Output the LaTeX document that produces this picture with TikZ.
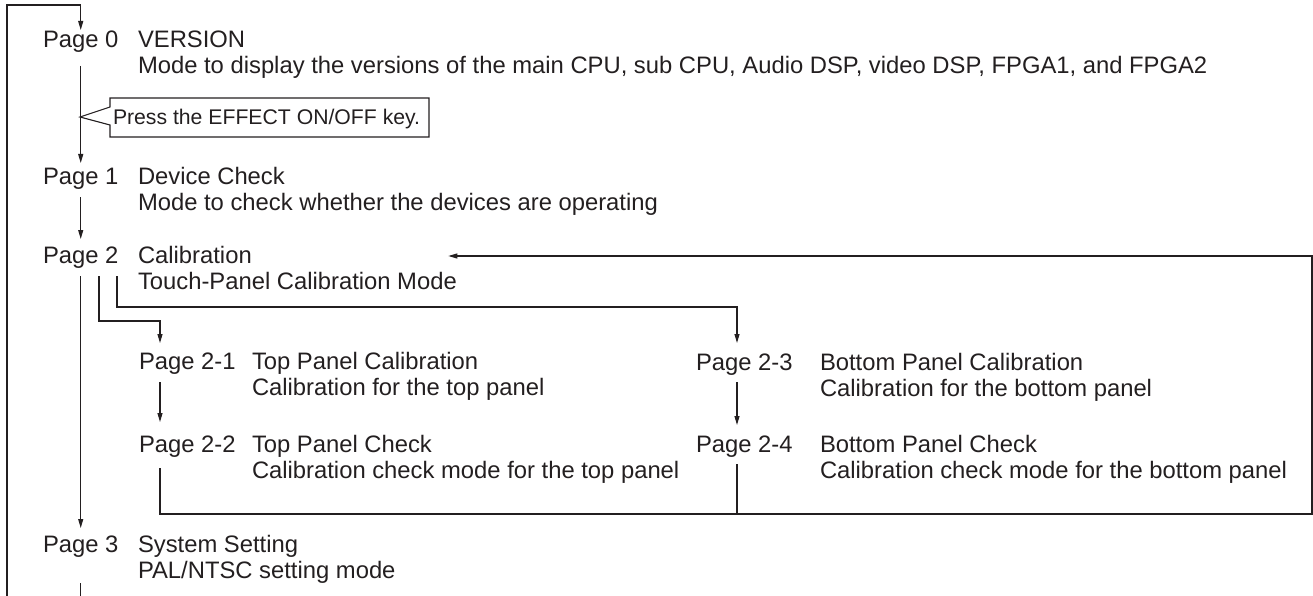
\documentclass[tikz,border=0pt]{standalone}
\usepackage{fontspec}
\setmainfont{Liberation Sans}
\usetikzlibrary{arrows.meta}
\definecolor{ink}{HTML}{231F20}
\begin{document}
\begin{tikzpicture}[x=1pt,y=-1pt,
  every node/.style={inner sep=0pt,outer sep=0pt,anchor=base west,text=ink},
  lbl/.style={font=\fontsize{23.8}{26}\selectfont,text height=16pt,text depth=5pt},
  small/.style={font=\fontsize{21.2}{24}\selectfont},
  ln/.style={draw=ink,line width=1.1pt},
  arr/.style={ln,-{Triangle[length=9pt,width=5pt]}}]
\useasboundingbox (0,0) rectangle (1313,596);
% labels
\node[lbl] (p0) at (43,48) {Page 0};
\node[lbl] (d0a) at (138,48) {VERSION};
\node[lbl] (d0b) at (138,74) {Mode to display the versions of the main CPU, sub CPU, Audio DSP, video DSP, FPGA1, and FPGA2};
\node[lbl] (p1) at (43,184) {Page 1};
\node[lbl] (d1a) at (138,184) {Device Check};
\node[lbl] (d1b) at (138,210) {Mode to check whether the devices are operating};
\node[lbl] (p2) at (43,263) {Page 2};
\node[lbl] (d2a) at (138,263) {Calibration};
\node[lbl] (d2b) at (138,289) {Touch-Panel Calibration Mode};
\node[lbl] (p21) at (139,369) {Page 2-1};
\node[lbl] (d21a) at (252,369) {Top Panel Calibration};
\node[lbl] (d21b) at (252,395) {Calibration for the top panel};
\node[lbl] (p22) at (139,452) {Page 2-2};
\node[lbl] (d22a) at (252,452) {Top Panel Check};
\node[lbl] (d22b) at (252,478) {Calibration check mode for the top panel};
\node[lbl] (p23) at (696,370) {Page 2-3};
\node[lbl] (d23a) at (820,370) {Bottom Panel Calibration};
\node[lbl] (d23b) at (820,396) {Calibration for the bottom panel};
\node[lbl] (p24) at (696,452) {Page 2-4};
\node[lbl] (d24a) at (820,452) {Bottom Panel Check};
\node[lbl] (d24b) at (820,478) {Calibration check mode for the bottom panel};
\node[lbl] (p3) at (43,552) {Page 3};
\node[lbl] (d3a) at (138,552) {System Setting};
\node[lbl] (d3b) at (138,578) {PAL/NTSC setting mode};
% callout
\node[small] (press) at (113,125) {Press the EFFECT ON/OFF key.};
\coordinate (ctip) at (80,117);
\draw[ln,line join=miter] (110,98) -- (429,98) -- (429,137) -- (110,137) -- (110,125) -- (ctip) -- (110,107) -- cycle;
% outer loop
\coordinate (lb) at (7,596);
\coordinate (lt) at (7,5);
\draw[arr] (lb) -- (lt) -| ([yshift=2pt]p0.north);
% main spine
\draw[arr,shorten <=13pt,shorten >=5pt] (p0.south) -- (p1.north);
\draw[arr,shorten <=8pt,shorten >=8pt] (p1.south) -- (p2.north);
\draw[arr,shorten <=8pt,shorten >=8pt] (p2.south) -- (p3.north);
\draw[ln] ([yshift=-26pt]p3.south) -- (p3.south |- lb);
% branches from page 2
\draw[arr] ([xshift=56pt,yshift=-8pt]p2.south west) -- ++(0,45) -| ([xshift=21pt,yshift=10pt]p21.north west);
\draw[arr] ([xshift=74pt,yshift=-8pt]p2.south west) -- ++(0,31) -| ([xshift=41pt,yshift=11pt]p23.north west);
\draw[arr] ([xshift=21pt,yshift=-8pt]p21.south west) -- ([xshift=21pt,yshift=14pt]p22.north west);
\draw[arr] ([xshift=41pt,yshift=-7pt]p23.south west) -- ([xshift=41pt,yshift=11pt]p24.north west);
% return path
\coordinate (rb) at (1312,514);
\coordinate (rt) at (1312,256);
\draw[arr,line join=miter] ([xshift=21pt,yshift=-11pt]p22.south west) |- (rb) -- (rt) -- ([xshift=-8.5pt]d2b.east |- rt);
\draw[ln] ([xshift=41pt,yshift=-7pt]p24.south west) coordinate (a24) -- (a24 |- rb);
\end{tikzpicture}
\end{document}
